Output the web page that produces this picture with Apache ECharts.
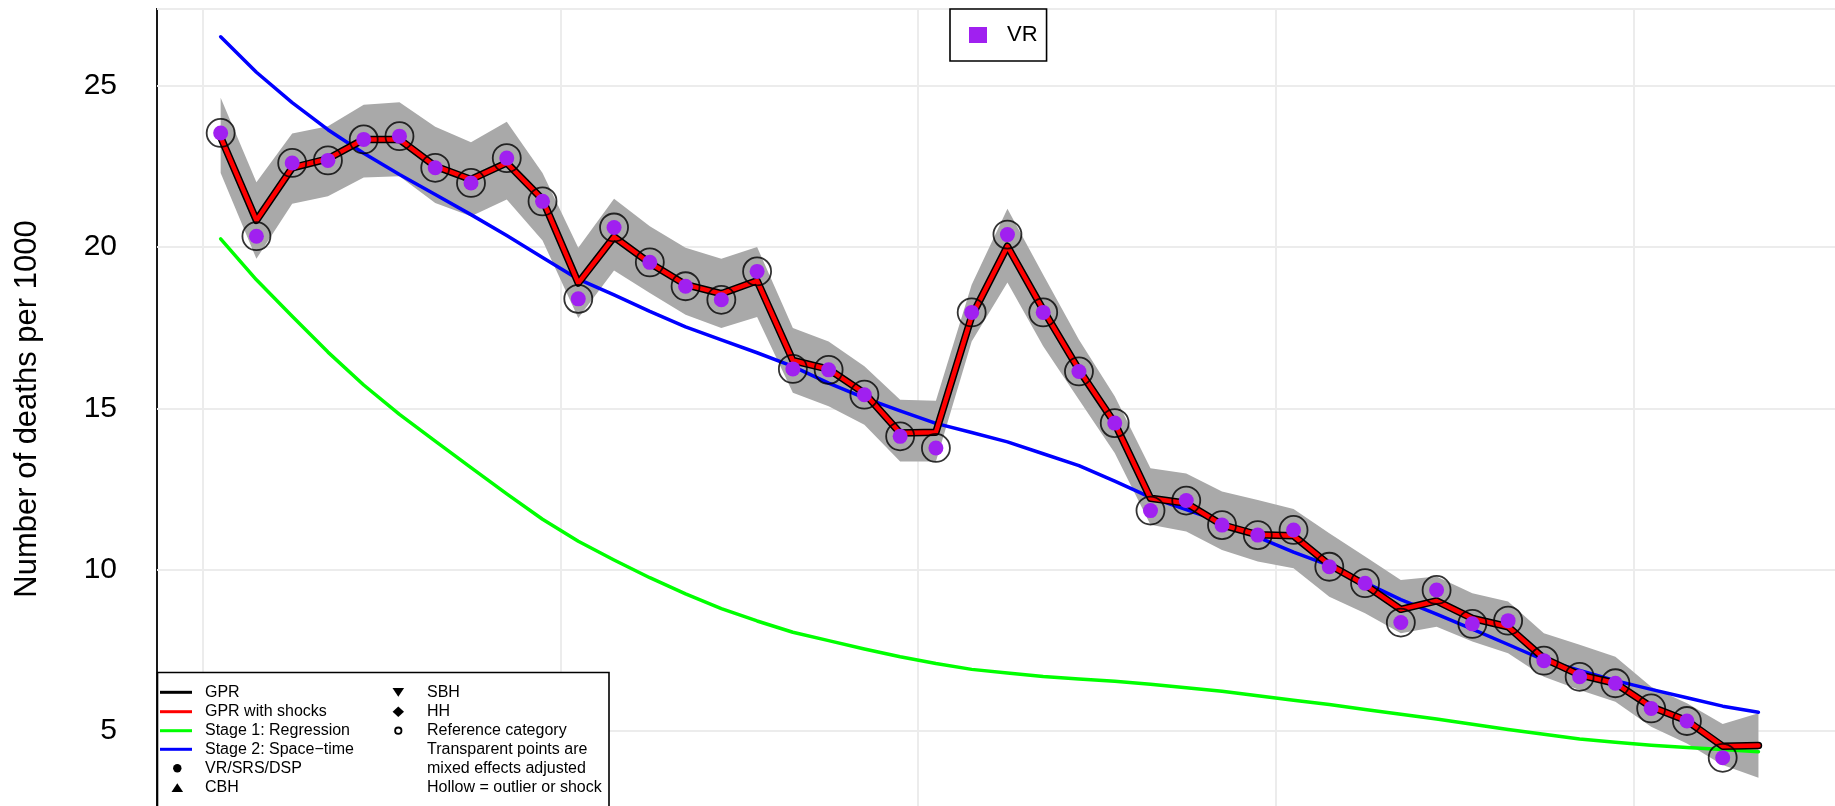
<!DOCTYPE html>
<html>
<head>
<meta charset="utf-8">
<script src="https://cdn.jsdelivr.net/npm/echarts@6/dist/echarts.min.js"></script>
<style>
    html, body { margin: 0; padding: 0; background: #fff; }
    #main { width: 1835px; height: 806px; }
</style>
</head>
<body>
<div id="main"></div>
<script>
/*----------------------------- data -----------------------------*/
// years of the VR data points (plotted at mid-year)
var dataYears = [1980.5, 1981.5, 1982.5, 1983.5, 1984.5, 1985.5, 1986.5, 1987.5, 1988.5, 1989.5,
    1990.5, 1991.5, 1992.5, 1993.5, 1994.5, 1995.5, 1996.5, 1997.5, 1998.5, 1999.5,
    2000.5, 2001.5, 2002.5, 2003.5, 2004.5, 2005.5, 2006.5, 2007.5, 2008.5, 2009.5,
    2010.5, 2011.5, 2012.5, 2013.5, 2014.5, 2015.5, 2016.5, 2017.5, 2018.5, 2019.5,
    2020.5, 2021.5, 2022.5];
// years of the model estimates (one more than the data)
var estYears = [1980.5, 1981.5, 1982.5, 1983.5, 1984.5, 1985.5, 1986.5, 1987.5, 1988.5, 1989.5,
    1990.5, 1991.5, 1992.5, 1993.5, 1994.5, 1995.5, 1996.5, 1997.5, 1998.5, 1999.5,
    2000.5, 2001.5, 2002.5, 2003.5, 2004.5, 2005.5, 2006.5, 2007.5, 2008.5, 2009.5,
    2010.5, 2011.5, 2012.5, 2013.5, 2014.5, 2015.5, 2016.5, 2017.5, 2018.5, 2019.5,
    2020.5, 2021.5, 2022.5, 2023.5];

var vrValues = [23.53, 20.33, 22.60, 22.68, 23.33, 23.43, 22.45, 21.98, 22.75, 21.41,
    18.39, 20.60, 19.52, 18.78, 18.36, 19.24, 16.22, 16.19, 15.42, 14.13,
    13.77, 17.97, 20.38, 17.97, 16.14, 14.54, 11.83, 12.14, 11.38, 11.07,
    11.23, 10.09, 9.58, 8.36, 9.37, 8.32, 8.42, 7.18, 6.68, 6.48,
    5.70, 5.31, 4.17];

var gprValues = [23.40, 20.82, 22.45, 22.73, 23.33, 23.33, 22.50, 22.09, 22.60, 21.47,
    18.88, 20.31, 19.50, 18.83, 18.55, 18.95, 16.48, 16.21, 15.47, 14.23,
    14.26, 17.85, 20.02, 18.05, 16.19, 14.54, 12.21, 12.06, 11.39, 11.08,
    11.05, 10.15, 9.53, 8.77, 9.03, 8.49, 8.23, 7.25, 6.74, 6.48,
    5.75, 5.32, 4.53, 4.55];

var gprUpper = [24.62, 22.00, 23.51, 23.74, 24.40, 24.48, 23.72, 23.24, 23.88, 22.29,
    19.97, 21.49, 20.64, 19.97, 19.63, 20.00, 17.49, 17.07, 16.30, 15.26,
    15.23, 18.83, 21.18, 19.14, 17.12, 15.37, 13.14, 12.98, 12.42, 12.16,
    11.88, 11.13, 10.41, 9.68, 9.79, 9.27, 9.01, 8.03, 7.67, 7.30,
    6.37, 5.86, 5.22, 5.55];

var gprLower = [22.29, 19.63, 21.34, 21.57, 22.15, 22.19, 21.36, 20.95, 21.47, 20.20,
    17.80, 19.27, 18.57, 17.90, 17.49, 17.83, 15.48, 15.06, 14.49, 13.35,
    13.35, 17.07, 18.90, 16.92, 15.26, 13.61, 11.39, 11.18, 10.61, 10.25,
    10.04, 9.16, 8.65, 8.03, 8.23, 7.77, 7.41, 6.68, 6.27, 5.91,
    5.13, 4.61, 3.95, 3.55];

var stage1Values = [20.25, 18.98, 17.85, 16.74, 15.72, 14.81, 13.98, 13.16, 12.35, 11.56,
    10.88, 10.30, 9.75, 9.25, 8.79, 8.41, 8.06, 7.80, 7.54, 7.30,
    7.09, 6.91, 6.80, 6.69, 6.61, 6.54, 6.45, 6.34, 6.23, 6.09,
    5.95, 5.82, 5.67, 5.52, 5.37, 5.21, 5.05, 4.90, 4.75, 4.65,
    4.56, 4.49, 4.43, 4.36];

var stage2Values = [26.51, 25.41, 24.47, 23.63, 22.90, 22.24, 21.62, 21.00, 20.35, 19.67,
    19.00, 18.51, 18.00, 17.52, 17.12, 16.72, 16.30, 15.78, 15.32, 14.92,
    14.53, 14.25, 13.96, 13.59, 13.22, 12.74, 12.24, 11.86, 11.47, 11.01,
    10.54, 10.13, 9.60, 9.07, 8.62, 8.16, 7.68, 7.20, 6.88, 6.56,
    6.29, 6.03, 5.77, 5.58];

var decadeTicks = [1980, 1990, 2000, 2010, 2020];

function pairs(xs, ys) {
    var out = [];
    for (var i = 0; i < ys.length; i++) out.push([xs[i], ys[i]]);
    return out;
}
var bandData = estYears.map(function (x, i) { return [x, gprLower[i], gprUpper[i]]; });

/*----------------------------- chart -----------------------------*/
var FONT = '"Liberation Sans", Arial, sans-serif';
var myChart = echarts.init(document.getElementById('main'));

var legendRows = [692.3, 711.7, 730.7, 749.3, 768.3, 787.7];
var lineKeys = [
    ['GPR', '#000000'],
    ['GPR with shocks', '#ff0000'],
    ['Stage 1: Regression', '#00ff00'],
    ['Stage 2: Space\u2212time', '#0000ff']
];
var col1 = ['GPR', 'GPR with shocks', 'Stage 1: Regression', 'Stage 2: Space\u2212time', 'VR/SRS/DSP', 'CBH'];
var col2 = ['SBH', 'HH', 'Reference category', 'Transparent points are',
    'mixed effects adjusted', 'Hollow = outlier or shock'];

var graphics = [];
// y axis title
graphics.push({
    type: 'text', x: 27, y: 409, rotation: Math.PI / 2, z: 100,
    style: { text: 'Number of deaths per 1000', font: '31px ' + FONT, fill: '#000',
        align: 'center', verticalAlign: 'middle' }
});
// bottom-left key box
graphics.push({
    type: 'rect', z: 100,
    shape: { x: 157.5, y: 672.5, width: 451.5, height: 200 },
    style: { fill: '#fff', stroke: '#000', lineWidth: 1.6 }
});
lineKeys.forEach(function (it, i) {
    graphics.push({
        type: 'line', z: 101,
        shape: { x1: 160, y1: legendRows[i], x2: 192, y2: legendRows[i] },
        style: { stroke: it[1], lineWidth: 3 }
    });
});
col1.forEach(function (t, i) {
    graphics.push({
        type: 'text', x: 205, y: legendRows[i], z: 101,
        style: { text: t, font: '16px ' + FONT, fill: '#000', verticalAlign: 'middle' }
    });
});
col2.forEach(function (t, i) {
    graphics.push({
        type: 'text', x: 427, y: legendRows[i], z: 101,
        style: { text: t, font: '16px ' + FONT, fill: '#000', verticalAlign: 'middle' }
    });
});
// key symbols
graphics.push({ type: 'circle', z: 101, shape: { cx: 177.3, cy: legendRows[4], r: 4.2 }, style: { fill: '#000' } });
graphics.push({ type: 'polygon', z: 101, shape: { points: [[171.5, legendRows[5] + 4.2], [183.1, legendRows[5] + 4.2], [177.3, legendRows[5] - 4.4]] }, style: { fill: '#000' } });
graphics.push({ type: 'polygon', z: 101, shape: { points: [[392.5, legendRows[0] - 4.2], [404.1, legendRows[0] - 4.2], [398.3, legendRows[0] + 4.4]] }, style: { fill: '#000' } });
graphics.push({ type: 'polygon', z: 101, shape: { points: [[398.3, legendRows[1] - 5.2], [404, legendRows[1]], [398.3, legendRows[1] + 5.2], [392.6, legendRows[1]]] }, style: { fill: '#000' } });
graphics.push({ type: 'circle', z: 101, shape: { cx: 398.3, cy: legendRows[2], r: 3.2 }, style: { fill: '#fff', stroke: '#000', lineWidth: 1.8 } });

var option = {
    animation: false,
    backgroundColor: '#fff',
    textStyle: { fontFamily: FONT },
    grid: {
        // plot runs past the right and bottom edge of the picture
        left: 157, top: 9, width: 1688, height: 883.4,
        outerBoundsMode: 'none', containLabel: false,
        show: true, borderColor: '#000', borderWidth: 1.8
    },
    legend: {
        data: ['VR'],
        left: 950, top: 9,
        icon: 'rect', itemWidth: 18, itemHeight: 16,
        padding: [15, 9, 15, 19],
        borderColor: '#000', borderWidth: 1.6, borderRadius: 0,
        backgroundColor: '#fff',
        textStyle: { fontSize: 22, color: '#000', fontFamily: FONT, padding: [0, 0, 0, 15] }
    },
    xAxis: {
        type: 'value', min: 1978.72, max: 2025.92,
        axisLine: { show: false },
        axisTick: { show: false, customValues: decadeTicks },
        axisLabel: { show: false, customValues: decadeTicks },
        splitLine: { show: true, lineStyle: { color: '#ececec', width: 2 } }
    },
    yAxis: {
        type: 'value', min: 0, max: 27.37, interval: 5,
        axisLine: { show: false },
        axisTick: { show: false },
        axisLabel: { fontSize: 30, color: '#000', margin: 40, showMaxLabel: false, showMinLabel: false },
        splitLine: { show: true, lineStyle: { color: '#ececec', width: 2 } }
    },
    series: [
        {
            // uncertainty interval of GPR
            name: 'ci', type: 'custom', silent: true, z: 1,
            encode: { x: 0, y: [1, 2] },
            renderItem: function (params, api) {
                if (params.dataIndex !== 0) return;
                var pts = [];
                for (var i = 0; i < estYears.length; i++) pts.push(api.coord([estYears[i], gprUpper[i]]));
                for (var j = estYears.length - 1; j >= 0; j--) pts.push(api.coord([estYears[j], gprLower[j]]));
                return { type: 'polygon', shape: { points: pts }, style: { fill: '#a9a9a9' } };
            },
            data: bandData
        },
        {
            name: 'Stage 1: Regression', type: 'line', symbol: 'none', z: 2,
            lineStyle: { color: '#00ff00', width: 3.5, cap: 'round', join: 'round' },
            data: pairs(estYears, stage1Values)
        },
        {
            name: 'Stage 2: Space-time', type: 'line', symbol: 'none', z: 3,
            lineStyle: { color: '#0000ff', width: 3.5, cap: 'round', join: 'round' },
            data: pairs(estYears, stage2Values)
        },
        {
            name: 'GPR', type: 'line', symbol: 'none', z: 4,
            lineStyle: { color: '#000000', width: 7.5, cap: 'round', join: 'round' },
            data: pairs(estYears, gprValues)
        },
        {
            name: 'GPR with shocks', type: 'line', symbol: 'none', z: 5,
            lineStyle: { color: '#ff0000', width: 4.5, cap: 'round', join: 'round' },
            data: pairs(estYears, gprValues)
        },
        {
            name: 'VR', type: 'scatter', symbol: 'circle', symbolSize: 15, z: 6,
            itemStyle: { color: '#a020f0', opacity: 1 },
            data: pairs(dataYears, vrValues)
        },
        {
            name: 'outlier', type: 'scatter', symbol: 'circle', symbolSize: 28, z: 7,
            itemStyle: { color: 'rgba(0,0,0,0)', borderColor: '#000', borderWidth: 1.8 },
            data: pairs(dataYears, vrValues)
        }
    ],
    graphic: { elements: graphics }
};
myChart.setOption(option);
</script>
</body>
</html>
